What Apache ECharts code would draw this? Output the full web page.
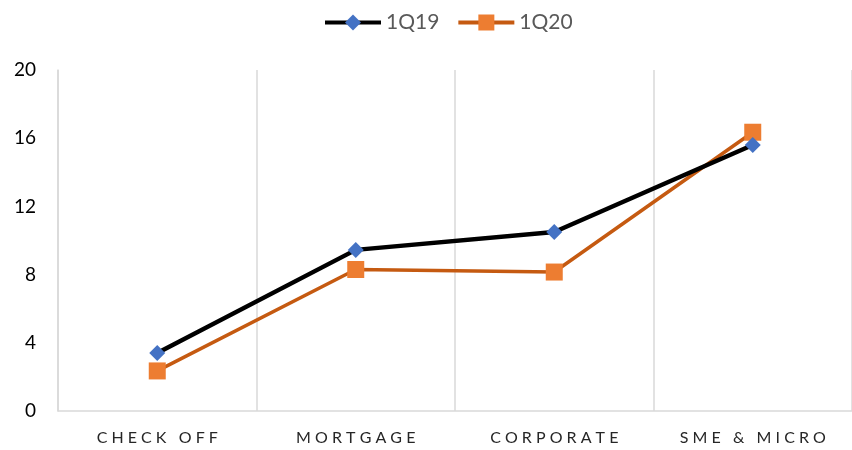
<!DOCTYPE html>
<html>
<head>
<meta charset="utf-8">
<script src="https://cdn.jsdelivr.net/npm/echarts@6/dist/echarts.min.js"></script>
<style>html,body{margin:0;padding:0;background:#fff;}#c{width:852px;height:450px;}</style>
</head>
<body>
<div id="c"></div>
<script>
const categories = ['CHECK OFF', 'MORTGAGE', 'CORPORATE', 'SME & MICRO'];
const q19 = [3.4, 9.45, 10.5, 15.6];
const q20 = [2.35, 8.3, 8.15, 16.35];
const yTicks = [0, 4, 8, 12, 16, 20];

const spaced = s => s.split('').join(' ');
const chart = echarts.init(document.getElementById('c'));
chart.setOption({
  animation: false,
  textStyle: { fontFamily: 'Lato' },
  legend: {
    top: 7, left: 318, itemWidth: 56, itemHeight: 20, itemGap: 17,
    lineStyle: { width: 4 },
    textStyle: { fontSize: 21, color: '#595959', fontFamily: 'Lato' },
    data: ['1Q19', '1Q20']
  },
  grid: { left: 58, right: -3, top: 70, bottom: 39 },
  xAxis: {
    type: 'category', data: categories, boundaryGap: true,
    axisLine: { show: true, lineStyle: { color: '#d9d9d9', width: 1.5 } },
    axisTick: { show: false },
    splitLine: { show: true, lineStyle: { color: '#d9d9d9', width: 1.5 } },
    axisLabel: { margin: 19, fontSize: 16, color: '#262626', formatter: v => spaced(v) }
  },
  yAxis: {
    type: 'value', min: yTicks[0], max: yTicks[yTicks.length - 1], interval: 4,
    axisLine: { show: true, lineStyle: { color: '#d9d9d9', width: 1.5 } },
    axisTick: { show: false },
    splitLine: { show: false },
    axisLabel: { margin: 22, fontSize: 19, color: '#000' }
  },
  series: [
    {
      name: '1Q19', type: 'line', data: q19,
      symbol: 'diamond', symbolSize: 16,
      lineStyle: { color: '#000', width: 4.5 },
      itemStyle: { color: '#4472C4' }, z: 3
    },
    {
      name: '1Q20', type: 'line', data: q20,
      symbol: 'rect', symbolSize: 17,
      lineStyle: { color: '#C55A11', width: 3.5 },
      itemStyle: { color: '#ED7D31' }, z: 2
    }
  ]
});
</script>
</body>
</html>
